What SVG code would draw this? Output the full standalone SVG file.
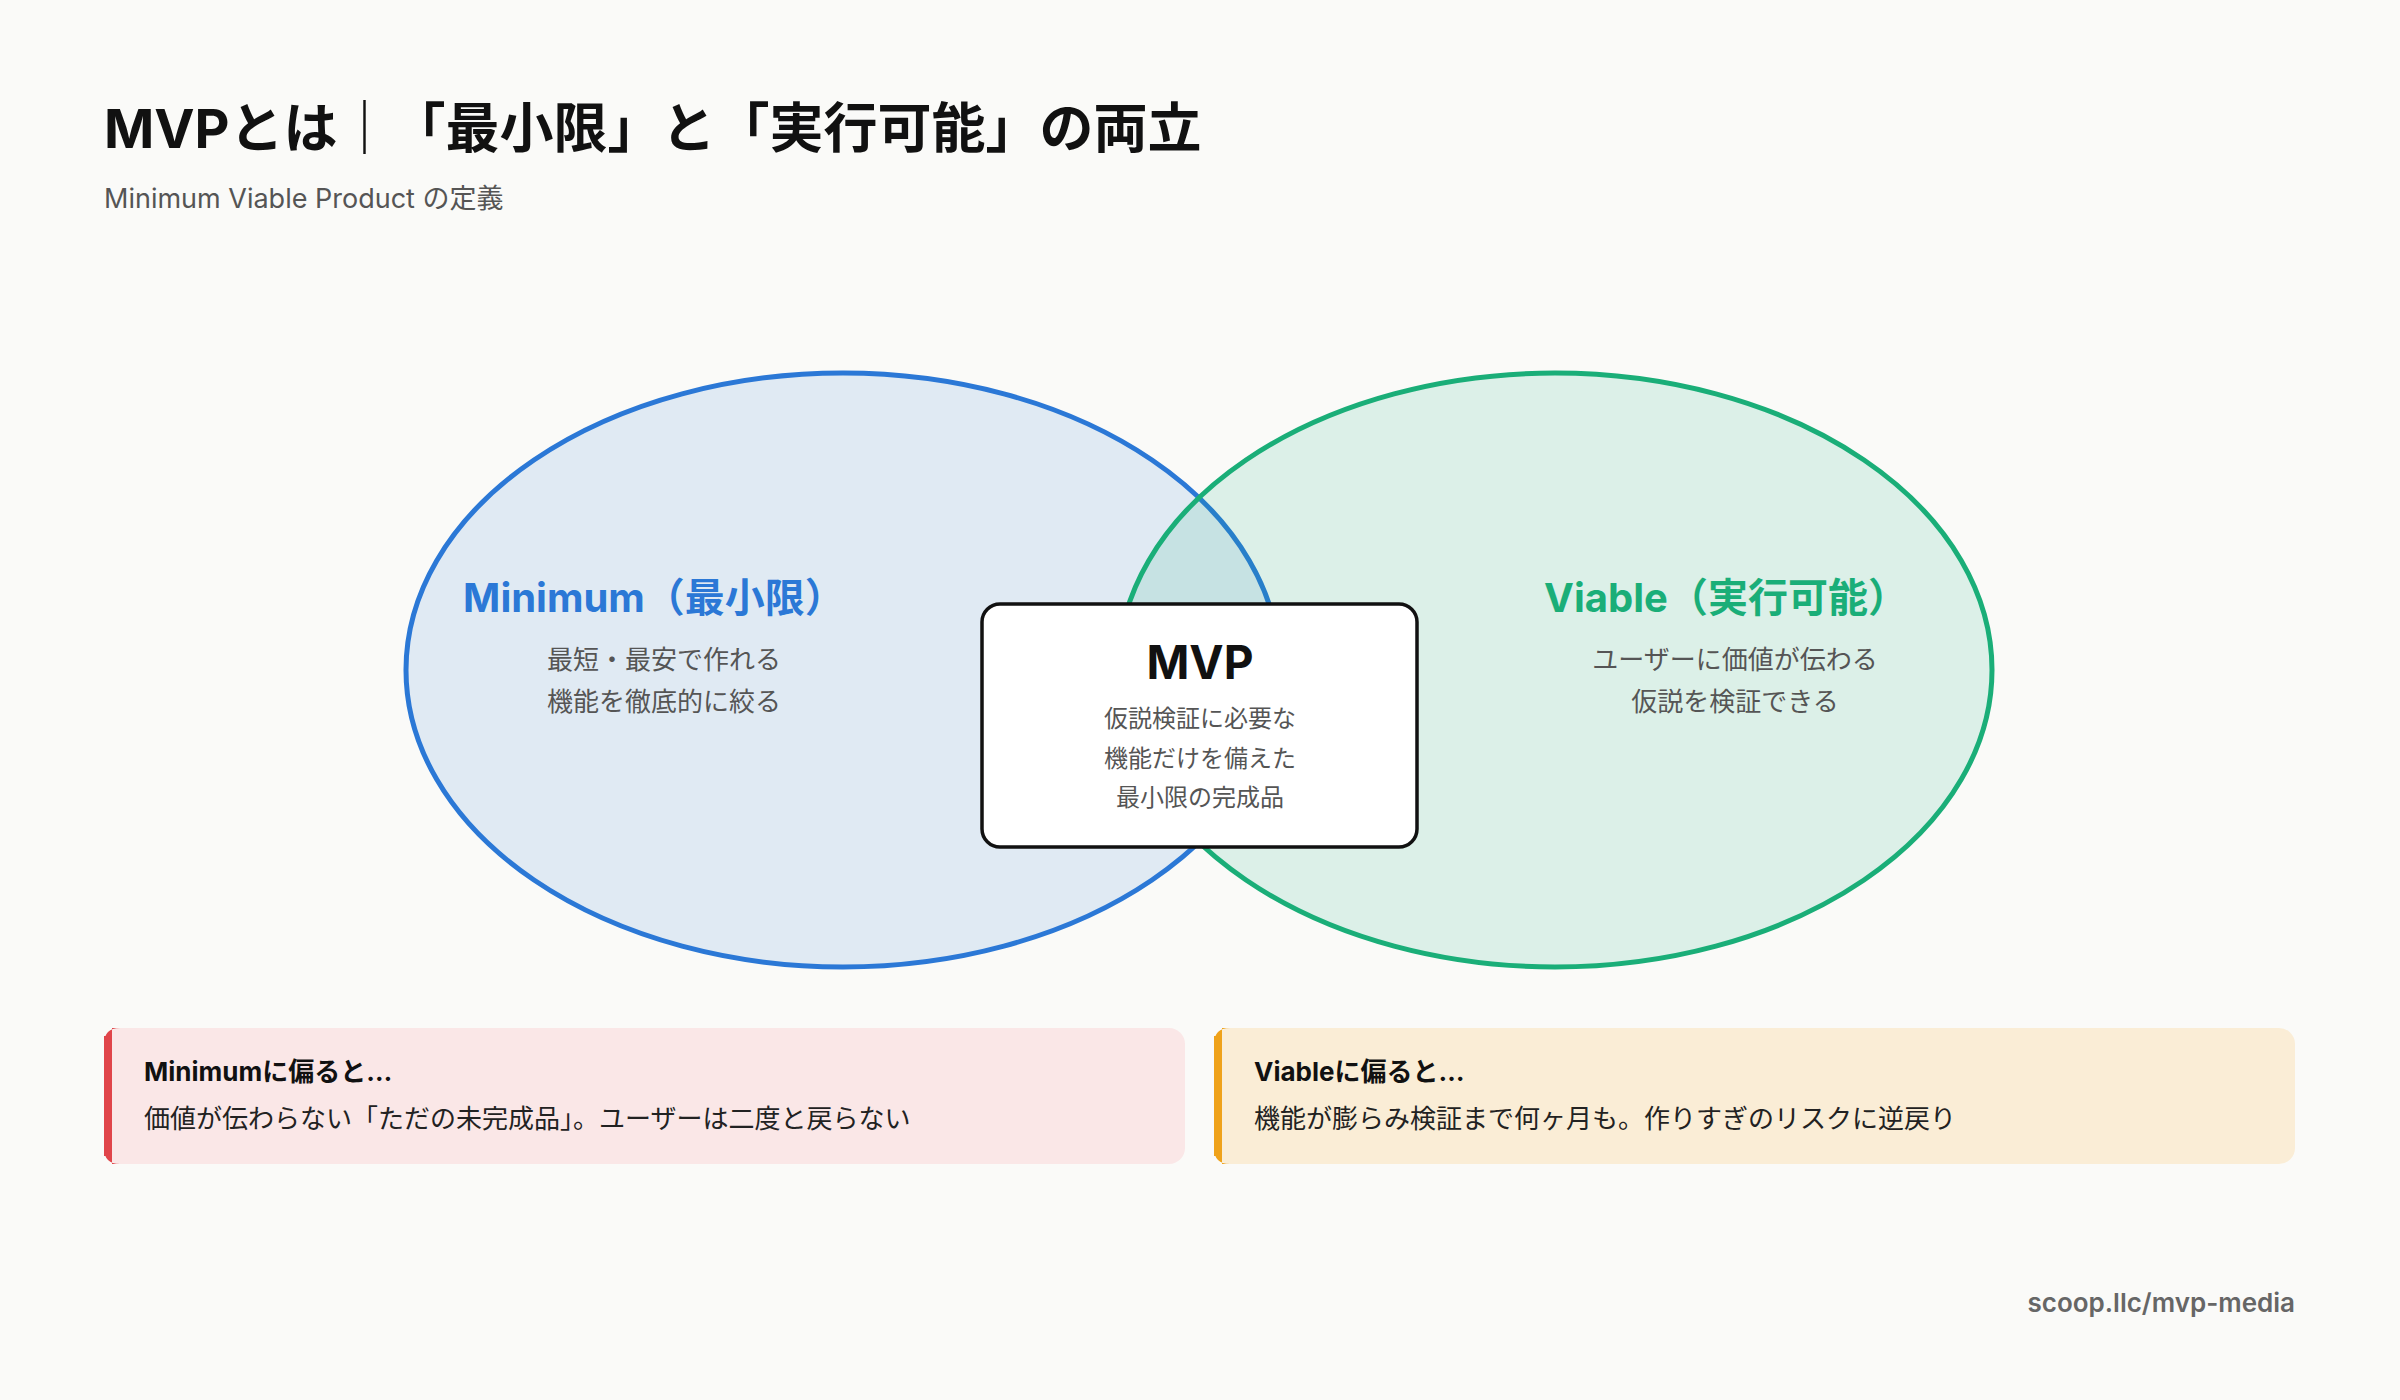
<svg xmlns="http://www.w3.org/2000/svg" width="2400" height="1400" viewBox="0 0 2400 1400">
<style>
text{font-family:Inter,"Noto Sans CJK JP",sans-serif}
.t{font-weight:700;fill:#111}
.g{fill:#555}
.s{font-size:26px;fill:#555;text-anchor:middle}
.c{font-size:24px;fill:#555;text-anchor:middle}
</style>
<rect width="2400" height="1400" fill="#FAFAF8"/>
<g id="title">
<text x="104" y="148" class="t" font-size="54">MVPとは｜「最小限」と「実行可能」の両立</text>
<text x="104" y="208" class="g" font-size="27">Minimum Viable Product の定義</text>
</g>
<g id="minimum">
<ellipse cx="843" cy="670" rx="437" ry="297" fill="#2B78D6" fill-opacity="0.12" stroke="#2B78D6" stroke-width="5"/>
<text x="654" y="612" font-size="40" font-weight="700" fill="#2B78D6" text-anchor="middle">Minimum（最小限）</text>
<text x="664" y="669" class="s">最短・最安で作れる</text>
<text x="664" y="711" class="s">機能を徹底的に絞る</text>
</g>
<g id="viable">
<ellipse cx="1555" cy="670" rx="437" ry="297" fill="#1AAE78" fill-opacity="0.13" stroke="#1AAE78" stroke-width="5"/>
<text x="1726" y="612" font-size="40" font-weight="700" fill="#1AAE78" text-anchor="middle">Viable（実行可能）</text>
<text x="1735" y="669" class="s">ユーザーに価値が伝わる</text>
<text x="1735" y="711" class="s">仮説を検証できる</text>
</g>
<g id="mvp">
<rect x="982" y="604" width="435" height="243" rx="18" fill="#fff" stroke="#111" stroke-width="3.5"/>
<text x="1200" y="679" class="t" font-size="46" text-anchor="middle">MVP</text>
<text x="1200" y="727" class="c">仮説検証に必要な</text>
<text x="1200" y="767" class="c">機能だけを備えた</text>
<text x="1200" y="806" class="c">最小限の完成品</text>
</g>
<g id="note-min">
<rect x="104" y="1028" width="1081" height="136" rx="16" fill="#FAE7E7"/>
<path d="M120 1028 Q104 1028 104 1044 V1148 Q104 1164 120 1164 H112 V1028Z" fill="#E0454A"/>
<rect x="104" y="1036" width="8" height="120" fill="#E0454A"/>
<text x="144" y="1081" class="t" font-size="26">Minimumに偏ると…</text>
<text x="144" y="1128" font-size="26" fill="#222">価値が伝わらない「ただの未完成品」。ユーザーは二度と戻らない</text>
</g>
<g id="note-via">
<rect x="1214" y="1028" width="1081" height="136" rx="16" fill="#FAEDD6"/>
<path d="M1230 1028 Q1214 1028 1214 1044 V1148 Q1214 1164 1230 1164 H1222 V1028Z" fill="#EFA21A"/>
<rect x="1214" y="1036" width="8" height="120" fill="#EFA21A"/>
<text x="1254" y="1081" class="t" font-size="26">Viableに偏ると…</text>
<text x="1254" y="1128" font-size="26" fill="#222">機能が膨らみ検証まで何ヶ月も。作りすぎのリスクに逆戻り</text>
</g>
<g id="connectors"></g>
<text x="2295" y="1312" font-size="26" font-weight="600" fill="#666" text-anchor="end">scoop.llc/mvp-media</text>
</svg>
